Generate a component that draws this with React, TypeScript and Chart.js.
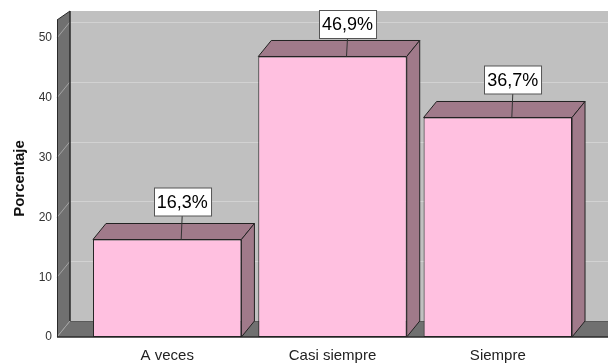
import { useEffect, useRef } from 'react';
import { Chart, registerables } from 'chart.js';

Chart.register(...registerables);

// Frequency distribution (percent) per response category
const categories = ['A veces', 'Casi siempre', 'Siempre'];
const percentages = [16.3, 46.9, 36.7];
const valueLabels = ['16,3%', '46,9%', '36,7%'];
const yTicks = [0, 10, 20, 30, 40, 50];
const yTitle = 'Porcentaje';

const FONT = '"Liberation Sans", Arial, sans-serif';
// depth offset of the pseudo-3D walls and bars
const DX = 13;
const DY = 16;
const WALL_RISE = 9;

const walls3d = {
  id: 'walls3d',
  beforeDatasetsDraw(chart: any) {
    const { ctx, chartArea, scales } = chart;
    const { left, right, top, bottom } = chartArea;
    const y = scales.y;
    ctx.save();
    // back wall
    ctx.fillStyle = '#C0C0C0';
    ctx.fillRect(left + DX, top - WALL_RISE, right - left - DX, bottom - DY - (top - WALL_RISE));
    // back wall grid lines
    ctx.strokeStyle = '#D2D2D2';
    ctx.lineWidth = 1;
    yTicks.forEach((v) => {
      const yy = Math.round(y.getPixelForValue(v) - DY) + 0.5;
      ctx.beginPath();
      ctx.moveTo(left + DX, yy);
      ctx.lineTo(right, yy);
      ctx.stroke();
    });
    // left side wall
    ctx.fillStyle = '#707070';
    ctx.beginPath();
    ctx.moveTo(left, top);
    ctx.lineTo(left + DX, top - WALL_RISE);
    ctx.lineTo(left + DX, bottom - DY);
    ctx.lineTo(left, bottom);
    ctx.closePath();
    ctx.fill();
    // floor
    ctx.beginPath();
    ctx.moveTo(left, bottom);
    ctx.lineTo(left + DX, bottom - DY);
    ctx.lineTo(right, bottom - DY);
    ctx.lineTo(right, bottom);
    ctx.closePath();
    ctx.fill();
    ctx.strokeStyle = '#5a5a5a';
    ctx.beginPath();
    ctx.moveTo(left + DX, bottom - DY + 0.5);
    ctx.lineTo(right, bottom - DY + 0.5);
    ctx.stroke();
    // side wall grid lines
    ctx.strokeStyle = '#A4A4A4';
    yTicks.forEach((v) => {
      const yy = y.getPixelForValue(v);
      ctx.beginPath();
      ctx.moveTo(left, yy);
      ctx.lineTo(left + DX, yy - DY);
      ctx.stroke();
    });
    // edges
    ctx.strokeStyle = '#2a2a2a';
    ctx.lineWidth = 1.5;
    ctx.beginPath();
    ctx.moveTo(left + DX, top - WALL_RISE);
    ctx.lineTo(left + DX, bottom - DY);
    ctx.stroke();
    ctx.lineWidth = 1;
    ctx.beginPath();
    ctx.moveTo(left + 0.5, top);
    ctx.lineTo(left + 0.5, bottom);
    ctx.moveTo(left, top);
    ctx.lineTo(left + DX, top - WALL_RISE);
    ctx.stroke();
    ctx.lineWidth = 1.5;
    ctx.beginPath();
    ctx.moveTo(left, bottom);
    ctx.lineTo(right, bottom);
    ctx.stroke();
    // y tick labels
    ctx.fillStyle = '#333';
    ctx.font = `12px ${FONT}`;
    ctx.textAlign = 'right';
    ctx.textBaseline = 'middle';
    yTicks.forEach((v) => {
      ctx.fillText(String(v), left - 5, y.getPixelForValue(v));
    });
    // y title
    ctx.save();
    ctx.translate(23.5, (top + bottom) / 2);
    ctx.rotate(-Math.PI / 2);
    ctx.font = `bold 15px ${FONT}`;
    ctx.fillStyle = '#111';
    ctx.textAlign = 'center';
    ctx.textBaseline = 'alphabetic';
    ctx.fillText(yTitle, 0, 0);
    ctx.restore();
    ctx.restore();
  },
  afterDatasetsDraw(chart: any) {
    const { ctx, scales } = chart;
    const meta = chart.getDatasetMeta(0);
    ctx.save();
    meta.data.forEach((el: any, i: number) => {
      const { x, y, base, width } = el.getProps(['x', 'y', 'base', 'width'], true);
      const l = x - width / 2;
      const r = x + width / 2;
      ctx.fillStyle = '#A07A8A';
      ctx.strokeStyle = '#222';
      ctx.lineWidth = 1;
      // top face
      ctx.beginPath();
      ctx.moveTo(l, y);
      ctx.lineTo(l + DX, y - DY);
      ctx.lineTo(r + DX, y - DY);
      ctx.lineTo(r, y);
      ctx.closePath();
      ctx.fill();
      ctx.stroke();
      // side face
      ctx.beginPath();
      ctx.moveTo(r, y);
      ctx.lineTo(r + DX, y - DY);
      ctx.lineTo(r + DX, base - DY);
      ctx.lineTo(r, base);
      ctx.closePath();
      ctx.fill();
      ctx.stroke();

      // value label box with leader line
      ctx.font = `18px ${FONT}`;
      const text = valueLabels[i];
      const tw = ctx.measureText(text).width;
      const bw = tw + 6;
      const bh = 28;
      const cx = x + 15;
      const bt = Math.max(10, y - 52);
      ctx.strokeStyle = '#333';
      ctx.beginPath();
      ctx.moveTo(cx, bt + bh);
      ctx.lineTo(x + 14, y);
      ctx.stroke();
      ctx.fillStyle = '#fff';
      ctx.fillRect(Math.round(cx - bw / 2) + 0.5, bt + 0.5, bw, bh);
      ctx.strokeStyle = '#555';
      ctx.strokeRect(Math.round(cx - bw / 2) + 0.5, bt + 0.5, bw, bh);
      ctx.fillStyle = '#000';
      ctx.textAlign = 'center';
      ctx.textBaseline = 'middle';
      ctx.fillText(text, cx, bt + bh / 2 + 1.5);
    });
    // category labels
    ctx.fillStyle = '#222';
    ctx.font = `15px ${FONT}`;
    ctx.textAlign = 'center';
    ctx.textBaseline = 'middle';
    categories.forEach((c, i) => {
      ctx.fillText(c, scales.x.getPixelForValue(i), 356);
    });
    ctx.restore();
  },
};

export default function App() {
  const ref = useRef<HTMLCanvasElement | null>(null);
  useEffect(() => {
    if (!ref.current) return;
    const chart = new Chart(ref.current, {
      type: 'bar',
      data: {
        datasets: [
          {
            data: percentages.map((v, i) => ({ x: i, y: v })),
            backgroundColor: '#FFC0E0',
            borderColor: '#222',
            borderWidth: 1,
            borderSkipped: false,
            barPercentage: 0.898,
            categoryPercentage: 1,
          },
        ],
      },
      options: {
        responsive: false,
        devicePixelRatio: 1,
        animation: false,
        layout: { padding: { left: 57, right: 0, top: 20, bottom: 26 } },
        plugins: { legend: { display: false }, tooltip: { enabled: false } },
        scales: {
          x: {
            type: 'linear',
            min: -2 / 3,
            max: 8 / 3,
            offset: false,
            display: false,
            // one tick per category so the bar width follows the category spacing
            afterBuildTicks: (s: any) => {
              s.ticks = categories.map((_, i) => ({ value: i }));
            },
          },
          y: { min: 0, max: 53, display: false },
        },
      },
      plugins: [walls3d],
    });
    return () => chart.destroy();
  }, []);
  return (
    <div style={{ position: 'fixed', left: 0, top: 0, width: 608, height: 363, background: '#fff' }}>
      <canvas ref={ref} width={608} height={363} style={{ display: 'block' }} />
    </div>
  );
}
